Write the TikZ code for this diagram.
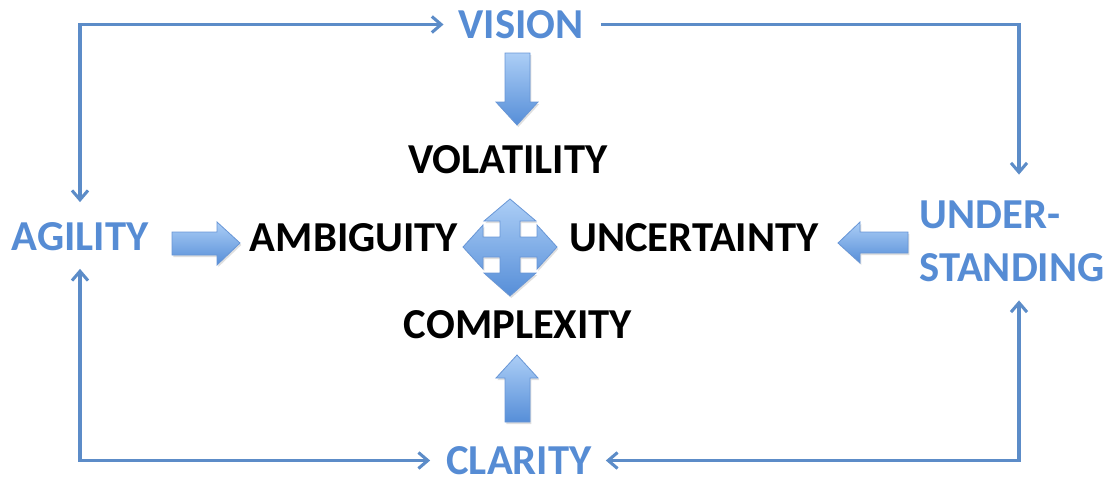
\documentclass[tikz,border=0pt]{standalone}
\usepackage{fontspec}
\setmainfont{Carlito}
\usetikzlibrary{arrows.meta,shadows}
\definecolor{vblue}{RGB}{86,140,212}
\definecolor{lineblue}{RGB}{92,140,200}
\definecolor{arrtop}{RGB}{172,206,246}
\definecolor{arrbot}{RGB}{86,142,216}
\definecolor{arredge}{RGB}{104,150,214}
\begin{document}
\begin{tikzpicture}[x=0.75pt,y=-0.75pt,
	word/.style={inner sep=0pt,font=\fontsize{32}{38}\selectfont\bfseries},
	goal/.style={word,text=vblue,font=\fontsize{32}{40}\selectfont\bfseries},
	link/.style={draw=lineblue,line width=2.3pt,>={Straight Barb[length=7pt,width=12pt]}},
	blockarr/.style={draw=arredge,line width=0.6pt,top color=arrtop,bottom color=arrbot,
		drop shadow={opacity=0.25,shadow xshift=1pt,shadow yshift=-1.5pt}}]
	\useasboundingbox (0,0) rectangle (1110,479);
	\node[goal] (vision) at (521,24.5) {VISION};
	\node[goal] (agility) at (80,236.5) {AGILITY};
	\node[goal,align=left] (understand) at (1012,241.5) {UNDER-\\STANDING};
	\node[goal] (clarity) at (519,460.5) {CLARITY};
	\node[word] (volat) at (508,160) {VOLATILITY};
	\node[word] (ambig) at (354,238) {AMBIGUITY};
	\node[word] (uncert) at (694,238) {UNCERTAINTY};
	\node[word] (complex) at (518,325) {COMPLEXITY};
	\draw[link,<->,shorten <=11pt,shorten >=15pt] (vision.west) -| (agility.north);
	\draw[link,->,shorten <=12.75pt,shorten >=19.5pt] (vision.east) -| ([xshift=5.25pt]understand.north);
	\draw[link,<->,shorten <=10.5pt,shorten >=13.5pt] (clarity.east) -| ([xshift=5.25pt]understand.south);
	\draw[link,<->,shorten <=12pt,shorten >=13.5pt] (clarity.west) -| (agility.south);
	\path[blockarr] (505,53) -- (530,53) -- (530,102) -- (538,102) -- (517,125)
		-- (496,102) -- (505,102) -- cycle;
	\path[blockarr] (517,355) -- (538,378) -- (530,378) -- (530,422) -- (505,422)
		-- (505,378) -- (496,378) -- cycle;
	\path[blockarr] (172,232) -- (217,232) -- (217,222) -- (240,243) -- (217,265)
		-- (217,255) -- (172,255) -- cycle;
	\path[blockarr] (908,232) -- (860,232) -- (860,222) -- (838,243) -- (860,263)
		-- (860,253) -- (908,253) -- cycle;
	\path[blockarr,shift={(510,247)}] (0,-48) -- (26,-26) -- (10,-26) -- (10,-10)
		-- (27,-10) -- (27,-22) -- (47,0) -- (27,22) -- (27,10) -- (10,10)
		-- (10,26) -- (26,26) -- (0,49) -- (-26,26) -- (-10,26) -- (-10,10)
		-- (-27,10) -- (-27,22) -- (-47,0) -- (-27,-22) -- (-27,-10) -- (-10,-10)
		-- (-10,-26) -- (-26,-26) -- cycle;
\end{tikzpicture}
\end{document}
